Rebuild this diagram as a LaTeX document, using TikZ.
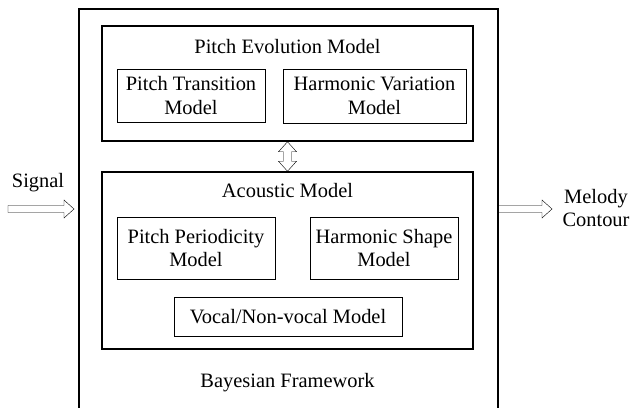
\documentclass[tikz,border=0pt]{standalone}
\usepackage{fontspec}
\setmainfont{Liberation Serif}
\usetikzlibrary{calc}
\tikzset{
    frame/.style         = {draw, line width = 1.6bp},
    group box/.style     = {draw, line width = 1.5bp},
    model box/.style     = {draw, line width = 1bp, align = center, inner sep = 0pt},
    caption/.style       = {align = center, inner sep = 0pt},
    hollow arrow/.style  = {draw, line width = 1bp, fill = white, line join = miter,
        to path = {let \p1 = (\tikztostart), \p2 = (\tikztotarget) in
            (\x1,\y1+3.5bp) -- (\x2-10bp,\y1+3.5bp) -- (\x2-10bp,\y1+9bp) -- (\x2,\y1)
            -- (\x2-10bp,\y1-9bp) -- (\x2-10bp,\y1-3.5bp) -- (\x1,\y1-3.5bp) -- cycle}},
    hollow double/.style = {draw, line width = 1bp, fill = white, line join = miter,
        to path = {let \p1 = (\tikztostart), \p2 = (\tikztotarget) in
            (\x1,\y1) -- (\x1+9bp,\y1-10bp) -- (\x1+4bp,\y1-10bp) -- (\x1+4bp,\y2+10bp)
            -- (\x1+9bp,\y2+10bp) -- (\x1,\y2) -- (\x1-9bp,\y2+10bp) -- (\x1-4bp,\y2+10bp)
            -- (\x1-4bp,\y1-10bp) -- (\x1-9bp,\y1-10bp) -- cycle}}
}

\begin{document}
\begin{tikzpicture}[x=1bp, y=-1bp, every node/.style={font=\fontsize{20.5}{23.5}\selectfont}]
		\useasboundingbox (0,0) rectangle (632,407);

		% outer framework, runs off the bottom of the page
		\node[frame, minimum width=419bp, minimum height=440bp, anchor=north west] (frame) at (78,8) {};
		\node[caption] (bayes) at (287.5,383) {Bayesian Framework};

		% pitch evolution model
		\node[group box, minimum width=371bp, minimum height=115bp] (evo) at (287.5,83.5) {};
		\node[caption] (evo title) at (287.5,47) {Pitch Evolution Model};
		\node[model box, minimum width=148bp, minimum height=53bp] (trans) at (191,95.5) {Pitch Transition\\Model};
		\node[model box, minimum width=183bp, minimum height=54bp] (harmvar) at (374.5,96) {Harmonic Variation\\Model};

		% acoustic model
		\node[group box, minimum width=371bp, minimum height=177bp] (acoustic) at (287.5,260.5) {};
		\node[caption] (acoustic title) at (287.5,191) {Acoustic Model};
		\node[model box, minimum width=158bp, minimum height=62bp] (period) at (196,248) {Pitch Periodicity\\Model};
		\node[model box, minimum width=148bp, minimum height=62bp] (shape) at (384,248) {Harmonic Shape\\Model};
		\node[model box, minimum width=228bp, minimum height=39bp] (vocal) at (288,316.5) {Vocal/Non-vocal Model};

		% input and output
		\node[caption] (signal) at (38,183) {Signal};
		\node[caption] (melody) at (596,208) {Melody\\Contour};
		\coordinate (sig tail) at (8,209);
		\coordinate (sig tip) at ([xshift=-4bp]frame.west |- sig tail);
		\coordinate (out tail) at (frame.east |- sig tail);
		\coordinate (out tip) at (552,209);

		\draw (sig tail) to[hollow arrow] (sig tip);
		\draw (out tail) to[hollow arrow] (out tip);
		\draw (evo.south) to[hollow double] (acoustic.north);
\end{tikzpicture}
\end{document}
